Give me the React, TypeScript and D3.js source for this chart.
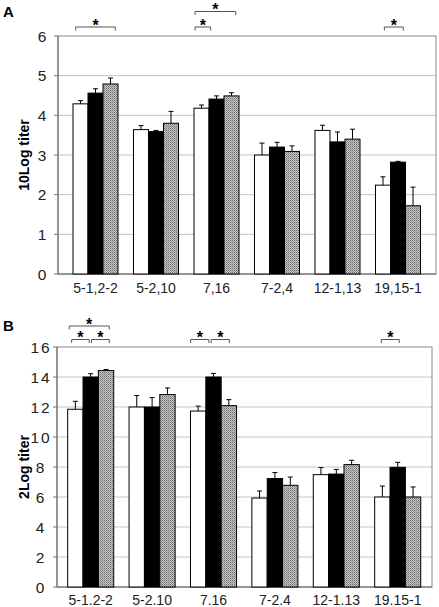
import React from "react";
import * as d3 from "d3";

const categoriesA = ["5-1,2-2", "5-2,10", "7,16", "7-2,4", "12-1,13", "19,15-1"];
const categoriesB = ["5-1.2-2", "5-2.10", "7.16", "7-2.4", "12-1.13", "19.15-1"];

// panel A: 10Log titer (white, black, hatched)
const aWhite = [4.29, 3.64, 4.18, 3.0, 3.62, 2.24];
const aBlack = [4.56, 3.59, 4.41, 3.2, 3.33, 2.82];
const aGray = [4.79, 3.8, 4.49, 3.09, 3.4, 1.72];
const aWhiteErr = [0.08, 0.1, 0.08, 0.3, 0.13, 0.21];
const aBlackErr = [0.11, 0.03, 0.08, 0.12, 0.25, 0.02];
const aGrayErr = [0.15, 0.3, 0.08, 0.14, 0.25, 0.47];
const aTicks = [0, 1, 2, 3, 4, 5, 6];

// panel B: 2Log titer
const bWhite = [11.85, 12.0, 11.73, 5.93, 7.49, 6.0];
const bBlack = [14.0, 12.0, 14.0, 7.23, 7.53, 7.98];
const bGray = [14.43, 12.83, 12.09, 6.78, 8.16, 6.0];
const bWhiteErr = [0.53, 0.76, 0.33, 0.47, 0.47, 0.73];
const bBlackErr = [0.22, 0.63, 0.24, 0.4, 0.31, 0.33];
const bGrayErr = [0.07, 0.44, 0.4, 0.55, 0.29, 0.67];
const bTicks = [0, 2, 4, 6, 8, 10, 12, 14, 16];

// significance brackets: [category index, from (bar units), to (bar units), level]
const aBrackets: [number, number, number, number][] = [
  [0, 0.18, 2.82, 0],
  [2, 0.07, 1.11, 0],
  [2, 0.07, 2.78, 1],
  [5, 0.59, 1.85, 0],
];
const bBrackets: [number, number, number, number][] = [
  [0, 0.1, 2.71, 1],
  [0, 0.26, 1.4, 0],
  [0, 1.55, 2.71, 0],
  [2, 0.01, 1.2, 0],
  [2, 1.35, 2.53, 0],
  [5, 0.43, 1.6, 0],
];

const FONT = "'Liberation Sans', Arial, sans-serif";

type PanelProps = {
  letter: string;
  letterY: number;
  cats: string[];
  series: number[][];
  errs: number[][];
  ticks: number[];
  yMax: number;
  frame: { l: number; r: number; t: number; b: number };
  bandRange: [number, number];
  pi: number;
  title: string;
  titleX: number;
  tickLabelX: number;
  tickSpacing: number;
  brackets: [number, number, number, number][];
  levelY: number[];
  labelY: number;
};

function Panel(p: PanelProps) {
  const x = d3
    .scaleBand<string>()
    .domain(p.cats)
    .range(p.bandRange)
    .paddingInner(p.pi)
    .paddingOuter(p.pi / 2);
  const bw = x.bandwidth() / 3;
  const y = d3.scaleLinear().domain([0, p.yMax]).range([p.frame.b, p.frame.t]);
  const fills = ["#ffffff", "#000000", "url(#hatch)"];
  const { l, r, t, b } = p.frame;
  return (
    <g>
      <text x={3} y={p.letterY} fontFamily={FONT} fontWeight="bold" fontSize={15}>
        {p.letter}
      </text>
      {p.ticks.map((v) => (
        <g key={v}>
          {v > 0 && v < p.yMax && (
            <line x1={l} x2={r} y1={y(v)} y2={y(v)} stroke="#c4c4c4" strokeWidth={1} />
          )}
          <line x1={l - 4} x2={l} y1={y(v)} y2={y(v)} stroke="#777" strokeWidth={1} />
          <text
            x={p.tickLabelX}
            y={y(v) + 5.5}
            textAnchor="middle"
            fontFamily={FONT}
            fontSize={15.5}
            letterSpacing={p.tickSpacing}
            fill="#222"
          >
            {v}
          </text>
        </g>
      ))}
      <rect x={l} y={t} width={r - l} height={b - t} fill="none" stroke="#8a8a8a" strokeWidth={1} />
      <line x1={l} x2={l} y1={t} y2={b} stroke="#666" />
      <line x1={l} x2={r} y1={b} y2={b} stroke="#666" />
      {p.cats.map((c, i) => (
        <g key={c}>
          {p.series.map((s, k) => {
            const bx = (x(c) as number) + k * bw;
            const top = y(s[i]);
            const et = y(s[i] + p.errs[k][i]);
            const cx = bx + bw / 2;
            return (
              <g key={k}>
                <line x1={cx} x2={cx} y1={top} y2={et} stroke="#000" strokeWidth={1} />
                <line x1={cx - 2.5} x2={cx + 2.5} y1={et} y2={et} stroke="#000" strokeWidth={1} />
                <rect x={bx} y={top} width={bw} height={b - top} fill={fills[k]} stroke="#000" strokeWidth={1} />
              </g>
            );
          })}
          <text
            x={(x(c) as number) + x.bandwidth() / 2}
            y={p.labelY}
            textAnchor="middle"
            fontFamily={FONT}
            fontSize={14}
            fill="#222"
          >
            {c}
          </text>
        </g>
      ))}
      {p.brackets.map(([ci, f, tt, lv], j) => {
        const x0 = (x(p.cats[ci]) as number) + f * bw;
        const x1 = (x(p.cats[ci]) as number) + tt * bw;
        const yy = p.levelY[lv];
        return (
          <g key={j}>
            <path
              d={`M${x0},${yy + 3.5}V${yy}H${x1}V${yy + 3.5}`}
              fill="none"
              stroke="#555"
              strokeWidth={1}
            />
            <text
              x={(x0 + x1) / 2}
              y={yy + 3.5}
              textAnchor="middle"
              fontFamily={FONT}
              fontWeight="bold"
              fontSize={16}
            >
              *
            </text>
          </g>
        );
      })}
      <text
        transform={`translate(${p.titleX},${(t + b) / 2}) rotate(-90)`}
        textAnchor="middle"
        fontFamily={FONT}
        fontWeight="bold"
        fontSize={14}
      >
        {p.title}
      </text>
    </g>
  );
}

export default function App() {
  return (
    <svg
      width={439}
      height={607}
      style={{ position: "absolute", left: 0, top: 0, background: "#fff" }}
    >
      <defs>
        <pattern id="hatch" width={2} height={2} patternUnits="userSpaceOnUse">
          <rect width={2} height={2} fill="#c4c4c4" />
          <rect width={1} height={1} fill="#6e6e6e" />
          <rect x={1} y={1} width={1} height={1} fill="#959595" />
        </pattern>
      </defs>
      <Panel
        letter="A"
        letterY={17}
        cats={categoriesA}
        series={[aWhite, aBlack, aGray]}
        errs={[aWhiteErr, aBlackErr, aGrayErr]}
        ticks={aTicks}
        yMax={6}
        frame={{ l: 58, r: 436, t: 36, b: 274 }}
        bandRange={[65.25, 428.25]}
        pi={0.256}
        title="10Log titer"
        titleX={29}
        tickLabelX={42}
        tickSpacing={0}
        brackets={aBrackets}
        levelY={[27, 11.5]}
        labelY={293}
      />
      <Panel
        letter="B"
        letterY={331}
        cats={categoriesB}
        series={[bWhite, bBlack, bGray]}
        errs={[bWhiteErr, bBlackErr, bGrayErr]}
        ticks={bTicks}
        yMax={16}
        frame={{ l: 57, r: 432, t: 347, b: 587 }}
        bandRange={[60, 428.4]}
        pi={0.25}
        title="2Log titer"
        titleX={29}
        tickLabelX={41}
        tickSpacing={2}
        brackets={bBrackets}
        levelY={[339.5, 326]}
        labelY={605}
      />
    </svg>
  );
}
